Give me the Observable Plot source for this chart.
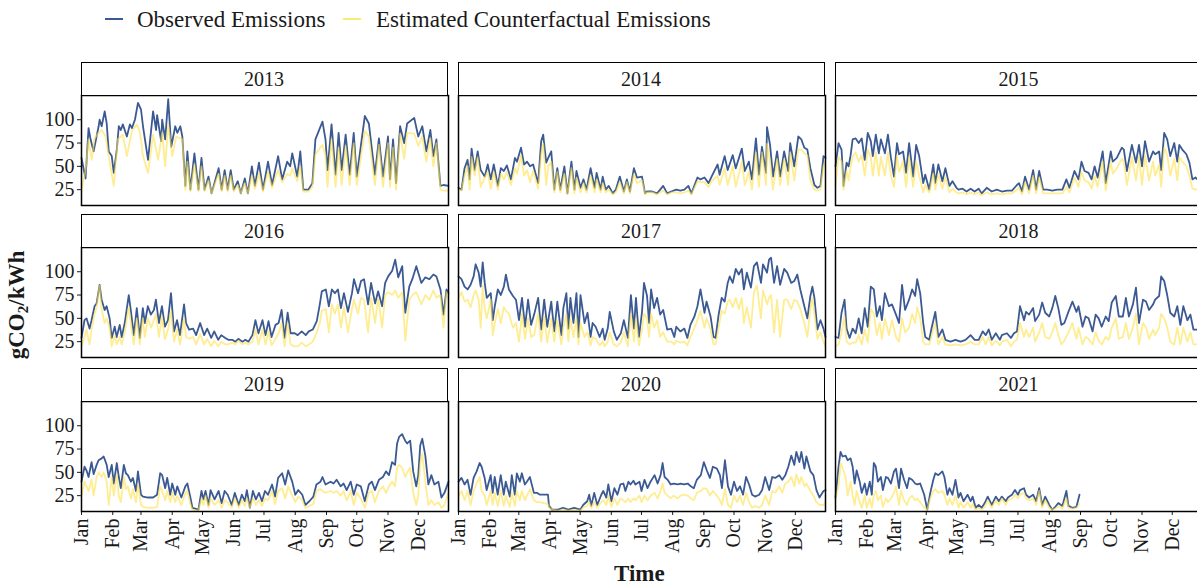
<!DOCTYPE html>
<html>
<head>
<meta charset="utf-8">
<script src="https://cdn.jsdelivr.net/npm/d3@7"></script>
<script src="https://cdn.jsdelivr.net/npm/@observablehq/plot@0.6"></script>
<style>
  html, body { margin: 0; padding: 0; background: #fff; overflow: hidden; }
  #root { position: relative; width: 1197px; height: 586px; overflow: hidden; background: #fff;
          font-family: "Liberation Serif", "Times New Roman", serif; color: #1a1a1a; }
  .abs { position: absolute; }
  .strip { position: absolute; box-sizing: border-box; border: 1.5px solid #000; background: #fff;
           font-size: 20px; display: flex; align-items: center; justify-content: center; }
  .leg-line { position: absolute; height: 2px; }
  .leg-text { position: absolute; font-size: 23px; line-height: 23px; white-space: nowrap; }
  .title { position: absolute; font-weight: bold; font-size: 23px; white-space: nowrap; }
</style>
</head>
<body>
<div id="root"></div>
<script>
// ---------------- DATA (day of year, gCO2/kWh) ----------------
const years = [2013, 2014, 2015, 2016, 2017, 2018, 2019, 2020, 2021];
const monthLabels = ["Jan","Feb","Mar","Apr","May","Jun","Jul","Aug","Sep","Oct","Nov","Dec"];
const yTicks = [25, 50, 75, 100];
const seriesLabels = ["Observed Emissions", "Estimated Counterfactual Emissions"];

const obs2013 = [[0,59],[4,37],[7,91],[9,79],[12,66],[17,93],[18,100],[20,93],[23,109],[25,96],[27,66],[30,61],[32,43],[35,68],[37,93],[39,89],[41,95],[45,82],[48,95],[50,91],[53,100],[56,118],[59,111],[61,93],[66,57],[71,109],[74,89],[75,105],[79,77],[80,100],[83,79],[86,122],[89,71],[93,93],[95,86],[98,93],[100,82],[103,29],[105,66],[108,25],[112,64],[116,25],[119,59],[122,25],[126,39],[129,21],[136,48],[139,25],[142,46],[145,25],[148,46],[151,25],[155,34],[158,21],[162,37],[165,21],[169,50],[172,29],[176,54],[180,25],[185,55],[189,30],[195,61],[199,36],[204,55],[207,50],[209,64],[214,39],[217,66],[220,25],[225,25],[229,32],[232,79],[239,98],[242,79],[244,46],[248,95],[252,41],[255,86],[258,46],[262,84],[266,41],[270,86],[273,39],[281,104],[285,96],[291,41],[295,80],[299,39],[304,82],[306,36],[309,79],[312,32],[316,93],[320,75],[323,96],[330,102],[334,82],[338,93],[342,66],[346,89],[349,61],[352,79],[356,29],[359,30],[364,29]];
const cf2013 = [[0,25],[4,45],[7,79],[10,57],[13,80],[17,86],[20,89],[24,82],[27,61],[32,29],[36,79],[41,84],[45,61],[50,88],[55,95],[58,86],[61,61],[66,43],[71,84],[76,57],[80,86],[83,50],[86,95],[90,61],[94,82],[100,79],[103,25],[105,55],[108,23],[112,52],[116,23],[119,50],[122,23],[126,35],[129,21],[136,42],[139,23],[142,40],[145,23],[148,40],[151,23],[155,30],[158,21],[162,32],[165,21],[169,40],[172,26],[176,42],[180,23],[185,44],[189,27],[195,46],[199,33],[204,42],[207,40],[209,48],[214,34],[217,50],[220,23],[225,23],[229,28],[232,63],[239,73],[242,62],[244,28],[248,79],[252,28],[255,70],[258,30],[262,72],[266,30],[270,75],[273,30],[281,88],[285,82],[291,30],[295,73],[299,28],[304,75],[306,28],[309,70],[312,25],[316,85],[320,58],[323,86],[330,85],[334,72],[338,82],[342,55],[346,80],[349,50],[352,75],[356,25],[359,24],[364,24]];

const obs2014 = [[0,27],[3,25],[6,48],[9,57],[11,36],[13,69],[16,46],[19,66],[22,46],[26,39],[29,52],[32,36],[35,52],[39,29],[42,48],[45,45],[48,51],[52,36],[56,59],[58,55],[62,70],[65,52],[68,55],[71,50],[74,52],[79,32],[82,77],[84,84],[87,54],[89,59],[92,66],[95,25],[98,48],[101,25],[105,50],[108,21],[112,55],[115,25],[117,45],[121,27],[124,36],[127,25],[131,48],[135,27],[137,43],[141,25],[143,39],[146,25],[149,29],[153,21],[156,25],[160,39],[164,23],[167,36],[170,23],[174,48],[177,38],[182,39],[185,21],[187,23],[192,23],[197,21],[203,29],[207,21],[211,23],[216,25],[220,24],[224,25],[228,29],[231,21],[237,38],[240,36],[244,38],[248,32],[251,39],[257,52],[259,41],[264,61],[267,46],[272,62],[275,48],[281,69],[284,45],[288,55],[291,36],[295,80],[298,41],[301,71],[305,43],[306,92],[309,73],[312,39],[316,66],[319,39],[323,66],[327,45],[329,75],[333,50],[337,82],[340,79],[343,70],[346,68],[349,48],[353,30],[356,27],[359,29],[362,61],[364,59]];
const cf2014 = [[0,25],[3,24],[6,40],[9,50],[11,25],[13,60],[16,40],[19,60],[22,28],[26,38],[29,44],[32,26],[35,44],[39,25],[42,42],[45,36],[48,44],[52,30],[56,48],[58,42],[62,62],[65,40],[68,46],[71,33],[74,45],[79,26],[82,63],[84,74],[87,30],[89,50],[92,55],[95,22],[98,44],[101,22],[105,42],[108,20],[112,48],[115,21],[117,38],[121,22],[124,32],[127,22],[131,40],[135,22],[137,36],[141,22],[143,32],[146,22],[149,25],[153,20],[156,22],[160,33],[164,21],[167,33],[170,21],[174,42],[177,32],[182,35],[185,20],[187,22],[192,22],[197,20],[203,24],[207,20],[211,22],[216,22],[220,21],[224,22],[228,24],[231,20],[237,34],[240,33],[244,33],[248,28],[251,34],[257,40],[259,30],[264,48],[267,30],[272,50],[275,28],[281,55],[284,30],[288,44],[291,25],[295,65],[298,28],[301,65],[305,30],[306,74],[309,55],[312,25],[316,58],[319,30],[323,58],[327,30],[329,65],[333,35],[337,68],[340,68],[343,64],[346,62],[349,35],[353,25],[356,24],[359,25],[362,50],[364,55]];

const obs2015 = [[0,50],[3,75],[6,68],[8,29],[11,54],[13,50],[15,62],[17,79],[20,80],[23,75],[26,80],[29,57],[32,86],[35,77],[37,61],[40,84],[43,64],[45,79],[49,64],[52,84],[55,59],[58,39],[61,75],[63,63],[67,66],[70,43],[73,75],[77,39],[80,73],[83,61],[87,32],[89,41],[93,25],[97,52],[99,32],[102,52],[106,34],[109,48],[113,29],[116,34],[120,27],[122,25],[126,26],[130,23],[134,26],[138,23],[142,26],[145,21],[150,27],[155,23],[160,25],[165,23],[170,24],[175,24],[180,30],[182,32],[185,23],[188,39],[192,25],[196,46],[199,25],[202,45],[206,25],[210,25],[215,24],[220,25],[225,25],[229,36],[232,27],[237,45],[241,36],[244,55],[247,45],[251,43],[254,36],[257,50],[260,38],[265,66],[268,32],[273,66],[275,55],[279,59],[284,70],[286,68],[289,45],[294,73],[298,54],[301,73],[304,50],[307,77],[311,55],[315,66],[317,63],[321,66],[323,46],[326,86],[329,79],[332,61],[336,75],[339,55],[341,73],[344,68],[348,63],[351,54],[354,36],[357,38],[360,35],[364,36]];
const cf2015 = [[0,30],[3,60],[6,55],[8,25],[11,45],[13,35],[15,50],[17,60],[20,65],[23,55],[26,62],[29,40],[32,68],[35,60],[37,40],[40,65],[43,40],[45,60],[49,40],[52,65],[55,40],[58,28],[61,62],[63,44],[67,55],[70,28],[73,60],[77,28],[80,55],[83,40],[87,22],[89,30],[93,22],[97,42],[99,25],[102,42],[106,26],[109,38],[113,22],[116,26],[120,22],[122,21],[126,22],[130,20],[134,22],[138,20],[142,22],[145,19],[150,22],[155,20],[160,21],[165,20],[170,21],[175,21],[180,25],[182,27],[185,20],[188,33],[192,21],[196,40],[199,21],[202,38],[206,21],[210,21],[215,21],[220,21],[225,21],[229,28],[232,22],[237,38],[241,28],[244,44],[247,35],[251,33],[254,26],[257,40],[260,28],[265,55],[268,24],[273,55],[275,42],[279,48],[284,58],[286,55],[289,30],[294,60],[298,35],[301,60],[304,30],[307,62],[311,35],[315,55],[317,40],[321,52],[323,28],[326,70],[329,62],[332,40],[336,58],[339,35],[341,60],[344,55],[348,50],[351,40],[354,26],[357,25],[360,26],[364,27]];

const obs2016 = [[0,29],[3,48],[5,50],[8,39],[10,48],[13,63],[15,66],[18,86],[20,70],[23,59],[25,63],[28,50],[30,29],[33,41],[35,30],[38,43],[40,30],[43,45],[47,75],[49,59],[52,32],[55,61],[58,29],[61,61],[63,45],[66,63],[69,54],[72,59],[74,70],[77,45],[80,63],[83,41],[86,48],[89,77],[92,36],[95,48],[98,32],[102,65],[104,45],[107,38],[111,39],[114,32],[118,45],[122,32],[125,39],[129,29],[132,36],[136,27],[139,32],[143,29],[146,27],[150,27],[153,25],[156,28],[160,25],[163,27],[166,25],[170,32],[173,48],[176,34],[180,48],[183,32],[186,47],[189,30],[193,43],[196,45],[199,59],[202,29],[205,56],[208,34],[212,34],[215,32],[219,36],[223,32],[226,36],[230,38],[234,47],[237,65],[239,79],[243,81],[246,63],[249,81],[252,77],[255,81],[258,61],[261,77],[265,57],[269,77],[271,92],[275,77],[278,90],[281,92],[285,65],[288,88],[292,66],[295,79],[299,63],[302,88],[305,95],[309,101],[312,113],[315,94],[319,106],[322,56],[326,84],[329,92],[333,106],[338,88],[342,94],[346,92],[350,97],[353,95],[357,81],[360,54],[363,81],[365,77]];
const cf2016 = [[0,20],[3,30],[5,38],[8,22],[10,38],[13,55],[15,62],[18,85],[20,60],[23,45],[25,50],[28,40],[30,20],[33,32],[35,22],[38,30],[40,22],[43,35],[47,62],[49,45],[52,22],[55,50],[58,22],[61,50],[63,30],[66,50],[69,40],[72,48],[74,55],[77,30],[80,52],[83,28],[86,38],[89,58],[92,25],[95,38],[98,22],[102,50],[104,30],[107,28],[111,30],[114,22],[118,33],[122,22],[125,28],[129,20],[132,26],[136,20],[139,25],[143,22],[146,22],[150,24],[153,22],[156,26],[160,22],[163,24],[166,22],[170,25],[173,38],[176,22],[180,38],[183,22],[186,36],[189,21],[193,28],[196,34],[199,45],[202,20],[205,45],[208,22],[212,20],[215,20],[219,24],[223,20],[226,22],[230,25],[234,35],[237,45],[239,58],[243,60],[246,35],[249,65],[252,55],[255,65],[258,40],[261,62],[265,35],[269,60],[271,70],[275,55],[278,72],[281,70],[285,35],[288,72],[292,45],[295,72],[299,40],[302,75],[305,78],[309,75],[312,80],[315,72],[319,78],[322,26],[326,70],[329,75],[333,78],[338,65],[342,75],[346,70],[350,80],[353,72],[357,75],[360,40],[363,78],[365,72]];

const obs2017 = [[0,95],[3,92],[6,84],[9,81],[12,86],[15,95],[17,108],[20,99],[22,84],[24,110],[26,88],[28,72],[32,77],[34,48],[36,63],[39,81],[42,75],[45,84],[47,97],[50,81],[54,74],[57,70],[60,48],[63,72],[66,41],[69,70],[72,43],[75,54],[79,72],[82,38],[85,70],[88,41],[92,68],[95,36],[98,68],[102,32],[104,61],[107,77],[109,39],[111,72],[114,45],[117,77],[119,30],[121,75],[125,45],[128,56],[131,30],[133,45],[136,41],[140,30],[143,39],[145,27],[148,39],[150,57],[154,36],[157,27],[161,34],[164,48],[168,29],[171,75],[174,39],[176,72],[179,30],[182,57],[184,88],[187,74],[189,45],[191,81],[194,61],[197,72],[200,54],[203,59],[207,38],[211,39],[214,30],[216,41],[220,36],[224,39],[227,29],[230,43],[234,52],[237,63],[240,81],[244,56],[246,68],[250,52],[253,30],[255,29],[258,54],[261,72],[264,68],[267,88],[269,95],[272,88],[275,103],[278,97],[281,103],[283,81],[286,99],[290,83],[293,106],[296,110],[300,88],[302,108],[306,99],[308,113],[310,115],[313,88],[316,106],[319,86],[323,103],[326,99],[330,88],[333,90],[336,97],[339,81],[343,63],[346,50],[349,74],[351,84],[353,72],[356,38],[359,48],[362,39],[364,30]];
const cf2017 = [[0,72],[3,78],[6,68],[9,70],[12,62],[15,75],[17,80],[20,70],[22,40],[24,85],[26,60],[28,50],[32,70],[34,32],[36,45],[39,60],[42,45],[45,62],[47,58],[50,55],[54,40],[57,45],[60,25],[63,55],[66,28],[69,50],[72,30],[75,32],[79,55],[82,25],[85,52],[88,24],[92,50],[95,25],[98,48],[102,22],[104,40],[107,55],[109,25],[111,50],[114,30],[117,50],[119,22],[121,45],[125,30],[128,35],[131,21],[133,30],[136,28],[140,21],[143,25],[145,20],[148,25],[150,35],[154,22],[157,20],[161,24],[164,35],[168,20],[171,55],[174,25],[176,50],[179,21],[182,38],[184,55],[187,50],[189,30],[191,55],[194,40],[197,48],[200,30],[203,35],[207,25],[211,25],[214,22],[216,26],[220,24],[224,25],[227,21],[230,30],[234,40],[237,48],[240,58],[244,40],[246,50],[250,38],[253,22],[255,22],[258,40],[261,58],[264,55],[267,68],[269,70],[272,62],[275,72],[278,60],[281,72],[283,45],[286,62],[290,40],[293,78],[296,85],[300,50],[302,80],[306,65],[308,72],[310,75],[313,35],[316,70],[319,30],[323,70],[326,70],[330,60],[333,70],[336,68],[339,60],[343,45],[346,30],[349,60],[351,72],[353,55],[356,28],[359,35],[362,25],[364,20]];

const obs2018 = [[0,30],[3,29],[6,56],[9,70],[11,39],[14,29],[17,39],[20,34],[23,50],[26,34],[29,61],[32,41],[35,84],[38,81],[41,52],[44,63],[46,48],[49,77],[53,63],[56,65],[60,54],[63,45],[66,86],[69,59],[73,70],[76,81],[79,74],[81,92],[84,77],[87,45],[89,30],[93,27],[95,38],[99,57],[102,30],[106,38],[109,27],[114,25],[119,27],[124,25],[129,27],[134,32],[138,27],[142,27],[146,36],[149,32],[152,38],[155,27],[159,34],[163,27],[165,32],[170,34],[174,29],[177,34],[180,36],[183,63],[187,48],[189,57],[192,54],[196,61],[198,47],[202,54],[205,67],[208,56],[212,52],[215,61],[218,74],[221,61],[224,43],[227,45],[231,57],[235,68],[239,57],[241,63],[245,41],[248,52],[251,50],[255,36],[258,54],[261,50],[264,41],[268,52],[271,47],[274,67],[278,74],[281,52],[285,52],[288,72],[291,52],[295,65],[298,83],[301,45],[305,70],[308,68],[311,59],[315,65],[317,70],[321,74],[323,95],[326,90],[329,75],[332,56],[336,52],[339,63],[342,43],[345,63],[349,48],[352,54],[355,38],[359,38],[364,40]];
const cf2018 = [[0,20],[3,22],[6,35],[9,52],[11,25],[14,22],[17,24],[20,24],[23,32],[26,22],[29,38],[32,24],[35,60],[38,55],[41,32],[44,45],[46,28],[49,50],[53,32],[56,48],[60,30],[63,25],[66,50],[69,35],[73,40],[76,55],[79,45],[81,62],[84,50],[87,25],[89,22],[93,22],[95,30],[99,45],[102,22],[106,30],[109,22],[114,21],[119,22],[124,21],[129,22],[134,25],[138,22],[142,22],[146,30],[149,22],[152,30],[155,21],[159,26],[163,21],[165,25],[170,27],[174,20],[177,25],[180,27],[183,45],[187,30],[189,38],[192,30],[196,40],[198,25],[202,35],[205,45],[208,30],[212,28],[215,35],[218,45],[221,32],[224,22],[227,26],[231,35],[235,45],[239,28],[241,40],[245,22],[248,30],[251,28],[255,22],[258,35],[261,26],[264,22],[268,30],[271,27],[274,40],[278,50],[281,28],[285,30],[288,45],[291,28],[295,40],[298,55],[301,22],[305,45],[308,40],[311,28],[315,38],[317,32],[321,40],[323,55],[326,50],[329,40],[332,25],[336,22],[339,40],[342,22],[345,40],[349,25],[352,35],[355,22],[359,22],[364,25]];

const obs2019 = [[0,40],[3,56],[5,52],[7,45],[10,61],[12,48],[15,58],[17,63],[20,65],[22,67],[25,58],[27,45],[30,58],[32,38],[35,60],[37,45],[39,33],[42,58],[44,49],[46,47],[49,40],[51,44],[54,30],[56,51],[59,26],[61,24],[66,23],[71,23],[75,26],[78,49],[80,47],[83,33],[85,44],[88,26],[90,38],[93,26],[95,35],[99,23],[103,35],[105,38],[108,23],[110,12],[116,10],[119,30],[121,21],[123,30],[126,15],[128,31],[132,21],[136,30],[139,17],[142,30],[145,26],[149,15],[152,28],[156,15],[159,26],[162,19],[164,31],[167,12],[170,30],[173,21],[176,28],[179,19],[182,30],[185,26],[189,37],[192,24],[195,44],[199,49],[202,37],[205,52],[209,40],[212,26],[215,31],[219,26],[222,15],[226,19],[230,24],[233,37],[237,40],[239,45],[242,37],[247,40],[250,38],[253,42],[257,35],[260,38],[263,31],[267,40],[270,26],[273,37],[277,35],[281,19],[285,37],[288,40],[291,31],[295,42],[299,45],[302,51],[305,47],[308,61],[311,58],[313,81],[315,88],[318,91],[321,84],[323,81],[326,84],[329,51],[332,35],[334,47],[336,79],[338,86],[341,68],[344,37],[347,47],[350,37],[354,40],[357,23],[360,28],[364,40]];
const cf2019 = [[0,25],[3,40],[5,35],[7,30],[10,42],[12,25],[15,45],[17,50],[20,45],[22,50],[25,40],[27,15],[30,45],[32,25],[35,48],[37,25],[39,18],[42,45],[44,32],[46,35],[49,22],[51,32],[54,18],[56,38],[59,15],[61,13],[66,12],[71,12],[75,13],[78,35],[80,30],[83,20],[85,30],[88,18],[90,28],[93,18],[95,25],[99,15],[103,28],[105,30],[108,16],[110,10],[116,9],[119,22],[121,15],[123,25],[126,12],[128,22],[132,15],[136,20],[139,12],[142,20],[145,18],[149,12],[152,22],[156,12],[159,20],[162,14],[164,22],[167,12],[170,22],[173,15],[176,20],[179,14],[182,22],[185,20],[189,30],[192,16],[195,30],[199,33],[202,22],[205,35],[209,25],[212,18],[215,24],[219,20],[222,12],[226,14],[230,16],[233,30],[237,32],[239,30],[242,28],[247,30],[250,28],[253,30],[257,25],[260,30],[263,20],[267,30],[270,15],[273,28],[277,22],[281,12],[285,28],[288,30],[291,18],[295,30],[299,35],[302,28],[305,35],[308,40],[311,35],[313,55],[315,58],[318,55],[321,45],[323,50],[326,55],[329,28],[332,15],[334,25],[336,60],[338,70],[341,40],[344,15],[347,20],[350,15],[354,18],[357,12],[360,15],[364,28]];

const obs2020 = [[0,40],[3,44],[6,37],[9,42],[12,26],[15,44],[18,51],[21,60],[23,56],[26,44],[28,31],[32,47],[34,28],[36,45],[39,26],[42,47],[45,26],[47,40],[51,24],[53,47],[56,26],[58,49],[61,40],[63,49],[66,37],[68,40],[71,45],[75,28],[78,28],[81,26],[85,26],[89,26],[90,14],[93,10],[99,10],[104,12],[109,10],[115,12],[121,10],[124,15],[128,19],[130,26],[132,14],[135,28],[138,15],[142,26],[144,30],[147,23],[149,37],[152,19],[155,33],[158,26],[161,37],[164,38],[166,30],[169,40],[171,37],[174,41],[176,37],[180,40],[182,30],[185,42],[188,33],[191,40],[195,47],[198,38],[201,47],[203,60],[205,45],[208,42],[211,37],[214,38],[218,37],[221,38],[224,37],[228,38],[231,35],[234,33],[237,42],[241,47],[244,61],[247,52],[250,44],[253,56],[257,54],[260,47],[262,33],[265,63],[268,35],[271,26],[274,40],[277,30],[280,35],[283,26],[286,45],[289,37],[292,26],[295,24],[299,26],[302,31],[305,45],[309,31],[312,45],[315,44],[319,47],[322,42],[325,47],[328,56],[331,68],[334,58],[336,72],[339,61],[341,72],[344,54],[346,67],[350,51],[353,47],[356,31],[359,23],[363,30],[365,31]];
const cf2020 = [[0,25],[3,30],[6,20],[9,30],[12,15],[15,30],[18,38],[21,45],[23,30],[26,25],[28,15],[32,30],[34,15],[36,28],[39,14],[42,30],[45,14],[47,25],[51,13],[53,28],[56,14],[58,30],[61,20],[63,30],[66,20],[68,25],[71,32],[75,20],[78,18],[81,18],[85,17],[89,16],[90,12],[93,10],[99,9],[104,10],[109,9],[115,10],[121,9],[124,12],[128,14],[130,18],[132,12],[135,18],[138,12],[142,18],[144,20],[147,15],[149,25],[152,13],[155,22],[158,15],[161,22],[164,20],[166,18],[169,22],[171,18],[174,22],[176,20],[180,25],[182,18],[185,25],[188,20],[191,25],[195,28],[198,22],[201,30],[203,38],[205,28],[208,25],[211,22],[214,25],[218,22],[221,25],[224,26],[228,25],[231,22],[234,20],[237,28],[241,30],[244,33],[247,32],[250,25],[253,30],[257,25],[260,20],[262,15],[265,32],[268,15],[271,12],[274,25],[277,18],[280,25],[283,15],[286,28],[289,18],[292,12],[295,14],[299,12],[302,15],[305,25],[309,15],[312,30],[315,28],[319,35],[322,28],[325,38],[328,40],[331,45],[334,35],[336,48],[339,38],[341,45],[344,35],[346,38],[350,30],[353,25],[356,18],[359,15],[363,15],[365,18]];

const obs2021 = [[0,23],[3,56],[5,72],[7,67],[10,68],[12,63],[15,65],[17,56],[19,38],[21,52],[24,40],[26,28],[29,38],[31,26],[34,40],[36,26],[38,60],[40,56],[42,40],[45,45],[47,31],[50,45],[52,44],[55,38],[58,51],[60,54],[63,33],[65,54],[68,42],[71,33],[73,44],[76,42],[79,38],[81,37],[84,38],[88,26],[91,10],[94,28],[97,42],[99,49],[102,47],[106,51],[108,45],[111,26],[113,33],[116,26],[119,42],[122,23],[124,28],[127,19],[131,26],[134,19],[136,24],[139,12],[142,15],[145,12],[148,17],[151,24],[155,15],[159,24],[162,19],[165,24],[169,19],[171,23],[175,26],[178,31],[181,26],[183,31],[187,33],[189,26],[192,23],[196,26],[199,19],[202,33],[205,15],[208,24],[212,15],[215,10],[218,13],[221,17],[225,14],[229,30],[231,14],[235,12],[239,13],[242,26]];
const cf2021 = [[0,20],[3,35],[5,60],[7,55],[10,45],[12,25],[15,40],[17,25],[19,15],[21,30],[24,18],[26,12],[29,25],[31,12],[34,22],[36,12],[38,25],[40,30],[42,20],[45,25],[47,13],[50,22],[52,18],[55,22],[58,28],[60,35],[63,15],[65,30],[68,20],[71,15],[73,22],[76,25],[79,20],[81,22],[84,18],[88,12],[91,10],[94,22],[97,30],[99,32],[102,28],[106,30],[108,26],[111,15],[113,22],[116,15],[119,25],[122,12],[124,18],[127,12],[131,18],[134,12],[136,16],[139,10],[142,12],[145,10],[148,13],[151,20],[155,12],[159,20],[162,15],[165,22],[169,15],[171,20],[175,22],[178,26],[181,22],[183,26],[187,28],[189,22],[192,20],[196,22],[199,15],[202,30],[205,12],[208,20],[212,12],[215,10],[218,11],[221,14],[225,11],[229,22],[231,12],[235,11],[239,12],[242,16]];

const observedByYear = [obs2013, obs2014, obs2015, obs2016, obs2017, obs2018, obs2019, obs2020, obs2021];
const counterfactualByYear = [cf2013, cf2014, cf2015, cf2016, cf2017, cf2018, cf2019, cf2020, cf2021];

// ---------------- STYLE / LAYOUT ----------------
const OBS_COLOR = "#3B5A93";
const CF_COLOR = "#FDE14A";
const colLeft = [80.5, 457.5, 835];
const rowTop = [95, 247, 400.5];
const PW = 367, PH = 110, STRIP_H = 33;
const Y_DOMAIN = [8, 126];

const root = document.getElementById("root");

function toRows(pairs, year) {
  return pairs.map(([d, v]) => ({ date: new Date(Date.UTC(year, 0, 1 + d)), value: v }));
}

// Legend
function addLegend() {
  const items = [
    { color: OBS_COLOR, opacity: 1, lx: 105, tx: 137, label: seriesLabels[0] },
    { color: CF_COLOR, opacity: 0.75, lx: 343, tx: 376, label: seriesLabels[1] }
  ];
  for (const it of items) {
    const ln = document.createElement("div");
    ln.className = "leg-line";
    ln.style.cssText = `left:${it.lx}px;top:18px;width:18px;background:${it.color};opacity:${it.opacity}`;
    root.appendChild(ln);
    const tx = document.createElement("div");
    tx.className = "leg-text";
    tx.style.left = it.tx + "px";
    tx.style.top = "8px";
    tx.textContent = it.label;
    root.appendChild(tx);
  }
}
addLegend();

years.forEach((year, i) => {
  const r = Math.floor(i / 3), c = i % 3;
  const ml = c === 0 ? 60 : 0;
  const mb = r === 2 ? 70 : 0;
  const monthTicks = monthLabels.map((_, m) => new Date(Date.UTC(year, m, 1)));
  const chart = Plot.plot({
    width: ml + PW,
    height: PH + mb,
    marginLeft: ml, marginRight: 0, marginTop: 0, marginBottom: mb,
    style: { fontFamily: '"Liberation Serif", "Times New Roman", serif', fontSize: "20px", color: "#1a1a1a", background: "transparent", overflow: "visible" },
    x: {
      type: "utc",
      domain: [new Date(Date.UTC(year, 0, 1)), new Date(Date.UTC(year, 11, 31))],
      axis: r === 2 ? "bottom" : null,
      ticks: monthTicks,
      tickFormat: d => monthLabels[d.getUTCMonth()],
      tickRotate: -90,
      tickSize: 4,
      tickPadding: 3,
      label: null
    },
    y: {
      domain: Y_DOMAIN,
      axis: c === 0 ? "left" : null,
      ticks: yTicks,
      tickSize: 4,
      tickPadding: 3,
      label: null
    },
    marks: [
      Plot.line(toRows(observedByYear[i], year), { x: "date", y: "value", stroke: OBS_COLOR, strokeWidth: 1.8 }),
      Plot.line(toRows(counterfactualByYear[i], year), { x: "date", y: "value", stroke: CF_COLOR, strokeWidth: 1.8, strokeOpacity: 0.6 }),
      Plot.frame({ stroke: "#000", strokeWidth: 1.5 })
    ]
  });
  chart.style.position = "absolute";
  chart.style.left = (colLeft[c] - ml) + "px";
  chart.style.top = rowTop[r] + "px";
  root.appendChild(chart);

  const strip = document.createElement("div");
  strip.className = "strip";
  strip.style.left = colLeft[c] + "px";
  strip.style.top = (rowTop[r] - STRIP_H) + "px";
  strip.style.width = PW + "px";
  strip.style.height = (STRIP_H + 1) + "px";
  strip.textContent = String(year);
  root.appendChild(strip);
});

// Axis titles
const xt = document.createElement("div");
xt.className = "title";
xt.textContent = "Time";
xt.style.left = "614px";
xt.style.top = "561px";
root.appendChild(xt);

const yt = document.createElement("div");
yt.className = "title";
yt.innerHTML = 'gCO<sub style="font-size:15px;vertical-align:-4px">2</sub>/kWh';
yt.style.left = "18px";
yt.style.top = "305px";
yt.style.transform = "translate(-50%,-50%) rotate(-90deg)";
root.appendChild(yt);
</script>
</body>
</html>
